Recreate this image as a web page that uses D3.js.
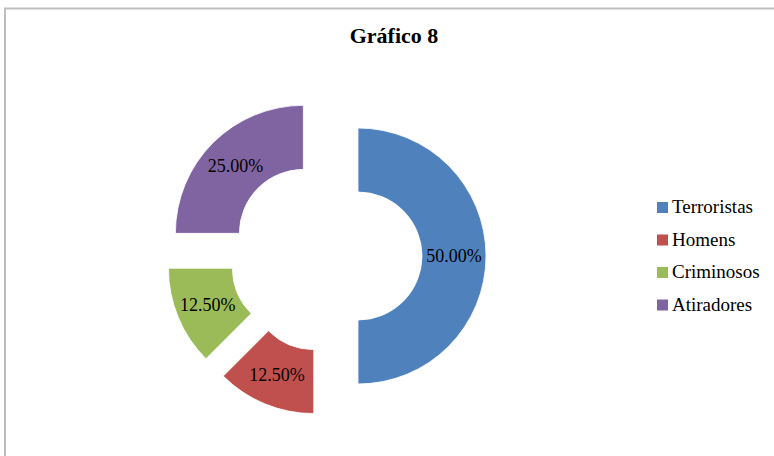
<!DOCTYPE html>
<html>
<head>
<meta charset="utf-8">
<script src="https://cdn.jsdelivr.net/npm/d3@7"></script>
<style>
  body { margin: 0; background: #fff; }
  svg { display: block; }
  text { font-family: 'Times New Roman', 'Liberation Serif', Tinos, 'DejaVu Serif', serif; }
</style>
</head>
<body>
<div id="chart"></div>
<script>
// data
const categories = ['Terroristas', 'Homens', 'Criminosos', 'Atiradores'];
const shares = [50.0, 12.5, 12.5, 25.0];
const colours = ['#4f81bd', '#c0504d', '#9bbb59', '#8064a2'];

const width = 774, height = 456;
const cx = 326, cy = 256;
const outerR = 128, innerR = 64, explode = 32;

const svg = d3.select('#chart').append('svg')
    .attr('width', width)
    .attr('height', height);

// frame
svg.append('rect')
    .attr('x', 5)
    .attr('y', 8.5)
    .attr('width', 900)
    .attr('height', 600)
    .attr('fill', 'none')
    .attr('stroke', '#bdbdbd')
    .attr('stroke-width', 2);

svg.append('text')
    .attr('x', 394)
    .attr('y', 43)
    .attr('text-anchor', 'middle')
    .attr('font-weight', 'bold')
    .attr('font-size', '22px')
    .attr('fill', '#000')
    .text('Gráfico 8');

const colour = d3.scaleOrdinal().domain(categories).range(colours);

const pie = d3.pie().sort(null).value(d => d.value);
const arc = d3.arc().innerRadius(innerR).outerRadius(outerR);

const data = categories.map((c, i) => ({ name: c, value: shares[i] }));
const total = d3.sum(shares);

const slices = svg.append('g')
    .attr('transform', `translate(${cx}, ${cy})`)
    .selectAll('.slice')
    .data(pie(data))
    .enter()
    .append('g')
    .attr('class', 'slice')
    // push each slice out along its middle angle
    .attr('transform', d => {
        const a = (d.startAngle + d.endAngle) / 2;
        return `translate(${Math.sin(a) * explode}, ${-Math.cos(a) * explode})`;
    });

slices.append('path')
    .attr('d', arc)
    .attr('fill', d => colour(d.data.name))
    .attr('stroke', '#fff')
    .attr('stroke-width', 0.8);

slices.append('text')
    .attr('transform', d => `translate(${arc.centroid(d)})`)
    .attr('text-anchor', 'middle')
    .attr('dy', '.35em')
    .attr('font-size', '18px')
    .attr('fill', '#000')
    .text(d => (d.data.value / total * 100).toFixed(2) + '%');

// legend
const legend = svg.append('g')
    .attr('transform', 'translate(657, 0)')
    .selectAll('.item')
    .data(categories)
    .enter()
    .append('g')
    .attr('class', 'item')
    .attr('transform', (d, i) => `translate(0, ${213 + i * 32.5})`);

legend.append('rect')
    .attr('x', 0)
    .attr('y', -11)
    .attr('width', 11)
    .attr('height', 11)
    .attr('fill', d => colour(d));

legend.append('text')
    .attr('x', 15)
    .attr('y', 0)
    .attr('font-size', '19px')
    .attr('fill', '#000')
    .text(d => d);
</script>
</body>
</html>
